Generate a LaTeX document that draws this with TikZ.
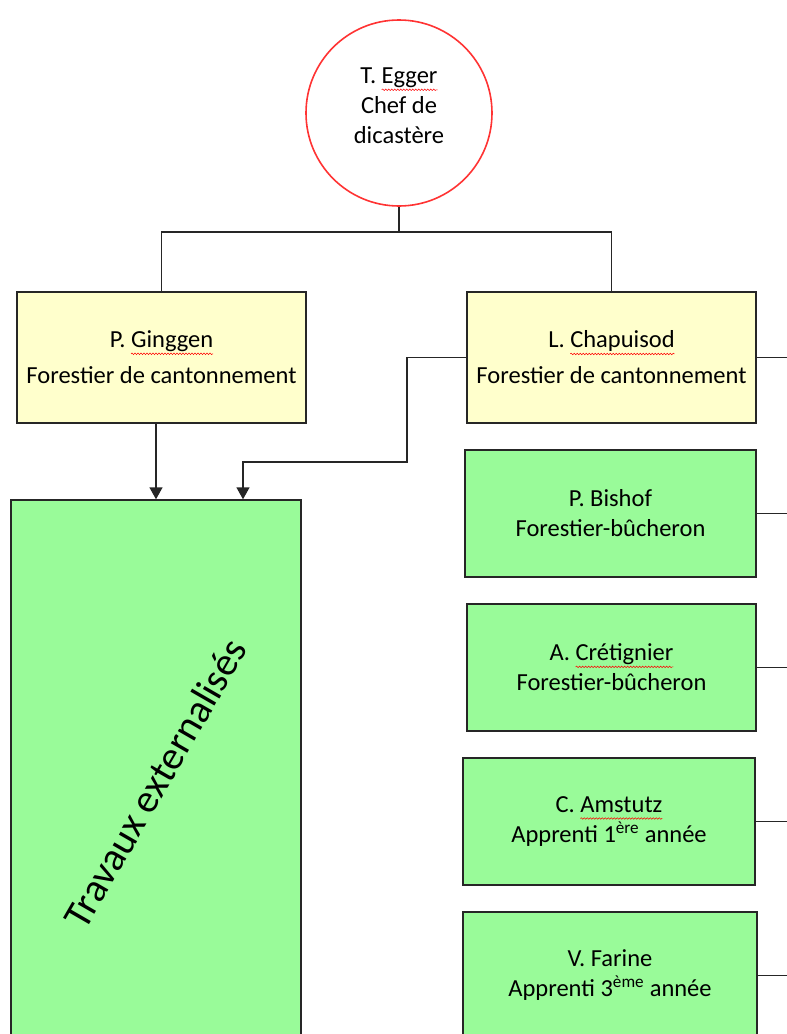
\documentclass[tikz,border=0pt]{standalone}
\usepackage{fontspec}
\setmainfont{Carlito}
\usetikzlibrary{arrows.meta,decorations.pathmorphing}
\definecolor{chefred}{HTML}{FF3333}
\definecolor{leadyellow}{HTML}{FFFFCC}
\definecolor{teamgreen}{HTML}{99FB99}
% red wavy mark under the names, as in the original
\newcommand\spellmark[1]{\setbox0\hbox{#1}\rlap{\tikz[overlay,baseline=0pt]\draw[red,line width=0.5pt,decorate,decoration={snake,amplitude=0.8pt,segment length=3pt}] (0pt,-6pt) -- (\wd0,-6pt);}\box0}

\begin{document}
\begin{tikzpicture}[x=1pt,y=-1pt,
    lead/.style={draw=black!85,line width=1.4pt,fill=leadyellow,minimum width=289pt,minimum height=131pt,align=center,font=\fontsize{24.5}{36}\selectfont},
    team/.style={draw=black!85,line width=1.4pt,fill=teamgreen,minimum width=291pt,minimum height=127pt,align=center,font=\fontsize{24.5}{30}\selectfont},
    link/.style={black!85,line width=1.4pt},
    >={Triangle[width=13pt,length=12pt]}]
  \useasboundingbox (0,0) rectangle (787,1034);
  \node[circle,draw=chefred,line width=1.6pt,fill=white,minimum size=186pt] (chef) at (399,113) {};
  \node[align=center,font=\fontsize{24.5}{30}\selectfont] (cheflabel) at (399,106) {T. \spellmark{Egger}\\Chef de\\dicastère};
  \draw
    (161.5,357.5) node[lead] (ginggen) {P. \spellmark{Ginggen}\\Forestier de cantonnement}
    (611.5,357.5) node[lead] (chapuisod) {L. \spellmark{Chapuisod}\\Forestier de cantonnement}
    (156,780) node[team,minimum width=290pt,minimum height=560pt] (travaux) {}
    (610.5,513.5) node[team] (bishof) {P. Bishof\\Forestier-bûcheron}
    (611.5,667.5) node[team,minimum width=289pt] (cretignier) {A. \spellmark{Crétignier}\\Forestier-bûcheron}
    (609,821.5) node[team,minimum width=292pt] (amstutz) {C. \spellmark{Amstutz}\\Apprenti 1\textsuperscript{ère} année}
    (610,975.5) node[team,minimum width=294pt] (farine) {V. Farine\\Apprenti 3\textsuperscript{ème} année};
  \node[rotate=60,font=\fontsize{40}{48}\selectfont] (travauxlabel) at ([xshift=-1pt,yshift=-3pt]travaux.center) {Travaux externalisés};
  \begin{scope}[link]
    \draw (chef.south) -- ++(0,25) -| (ginggen.north);
    \draw (chef.south) ++(0,25) -| (chapuisod.north);
    \draw[->] (travaux.north |- ginggen.south) -- (travaux.north);
    \draw[->] (chapuisod.west) -| (407,462) -| ([xshift=87pt]travaux.north);
    \draw (chapuisod.east) -- +(40,0);
    \draw (bishof.east) -- +(40,0);
    \draw (cretignier.east) -- +(40,0);
    \draw (amstutz.east) -- +(40,0);
    \draw (farine.east) -- +(40,0);
  \end{scope}
\end{tikzpicture}
\end{document}
